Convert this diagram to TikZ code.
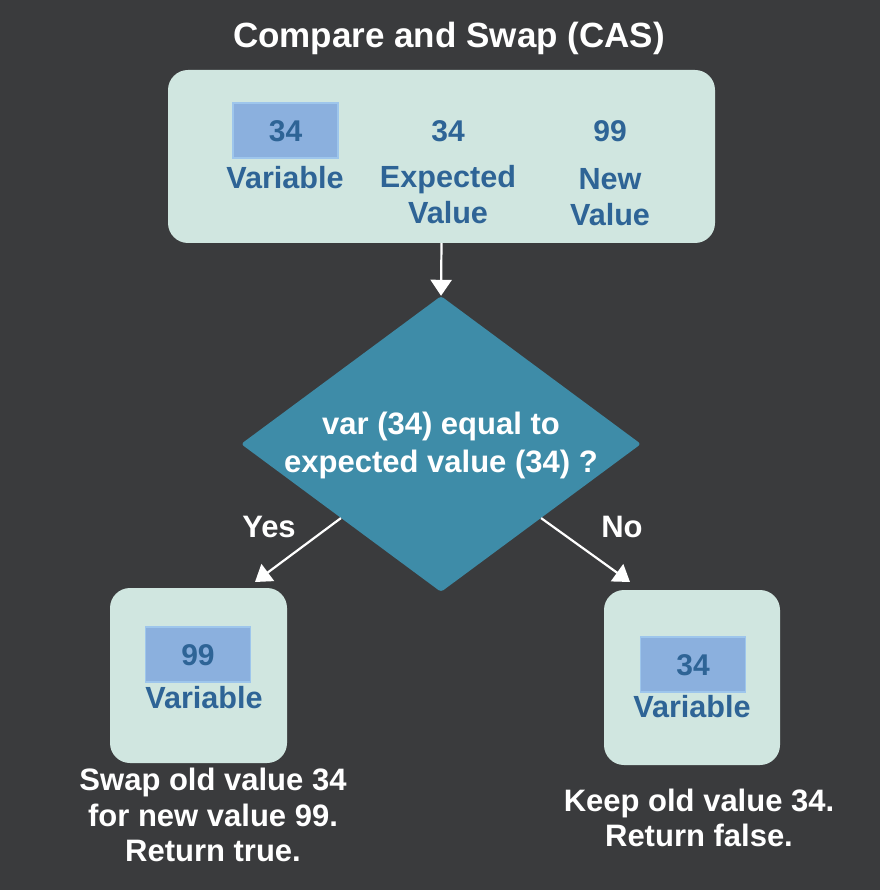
\documentclass[tikz,border=0pt]{standalone}
\usepackage{fontspec}
\setmainfont{Liberation Sans}
\usetikzlibrary{shapes.geometric,arrows.meta}
\definecolor{bg}{RGB}{58,59,61}
\definecolor{boxfill}{RGB}{208,230,224}
\definecolor{hifill}{RGB}{139,176,222}
\definecolor{hiborder}{RGB}{158,198,236}
\definecolor{txtblue}{RGB}{46,100,150}
\definecolor{diafill}{RGB}{62,140,168}
\tikzset{
  panel/.style={fill=boxfill, rounded corners=20pt, inner sep=0pt},
  hibox/.style={fill=hifill, draw=hiborder, line width=1.5pt, inner sep=0pt, minimum width=105pt, minimum height=55pt},
  bluetxt/.style={text=txtblue, font=\bfseries\fontsize{30.6}{36}\selectfont, align=center, inner sep=0pt},
  numtxt/.style={text=txtblue, font=\bfseries\fontsize{30}{32}\selectfont, inner sep=0pt},
  whitetxt/.style={text=white, font=\bfseries\fontsize{31}{35.5}\selectfont, align=center, inner sep=0pt},
  conn/.style={draw=white, line width=2.2pt, -{Triangle[width=21pt,length=16pt]}}
}
\begin{document}
\begin{tikzpicture}[x=1pt,y=-1pt]
\useasboundingbox[fill=bg] (0,0) rectangle (880,890);
% title
\node[text=white, font=\bfseries\fontsize{35}{40}\selectfont, inner sep=0pt] (title) at (449,38) {Compare and Swap (CAS)};
% top panel
\node[panel, minimum width=547pt, minimum height=173pt] (top) at (441.5,156.5) {};
\node[hibox] (tvar) at (285.5,130.5) {};
\node[numtxt] (tvarnum) at (285.5,131) {34};
\node[bluetxt] (tvarlbl) at (285,178) {Variable};
\node[numtxt] (texpnum) at (448,131) {34};
\node[bluetxt] (texplbl) at (448,195) {Expected\\Value};
\node[numtxt] (tnewnum) at (610,131) {99};
\node[bluetxt] (tnewlbl) at (610,197) {New\\Value};
% diamond
\node[diamond, fill=diafill, minimum width=400pt, minimum height=296pt, inner sep=0pt, rounded corners=3pt] (dia) at (441,444) {};
\node[whitetxt, font=\bfseries\fontsize{31}{38}\selectfont] (diatxt) at (441,445) {var (34) equal to\\expected value (34) ?};
% bottom panels
\node[panel, minimum width=177pt, minimum height=175pt] (left) at (198.5,675.5) {};
\node[hibox] (lvar) at (198,654.5) {};
\node[numtxt] (lvarnum) at (198,655) {99};
\node[bluetxt] (lvarlbl) at (204,698) {Variable};
\node[panel, minimum width=176pt, minimum height=175pt] (right) at (692,677.5) {};
\node[hibox] (rvar) at (693,664.5) {};
\node[numtxt] (rvarnum) at (693,665) {34};
\node[bluetxt] (rvarlbl) at (692,707) {Variable};
% captions
\node[whitetxt] (lcap) at (213,815) {Swap old value 34\\for new value 99.\\Return true.};
\node[whitetxt] (rcap) at (699,818) {Keep old value 34.\\Return false.};
% labels
\node[whitetxt] (yes) at (269,527) {Yes};
\node[whitetxt] (no) at (622,527) {No};
% connectors
\coordinate (yesend) at (255,582);
\coordinate (noend) at (630,582);
\draw[conn] (top.south) -- (dia.north);
\draw[conn] (dia.south west) -- (yesend);
\draw[conn] (dia.south east) -- (noend);
\end{tikzpicture}
\end{document}
